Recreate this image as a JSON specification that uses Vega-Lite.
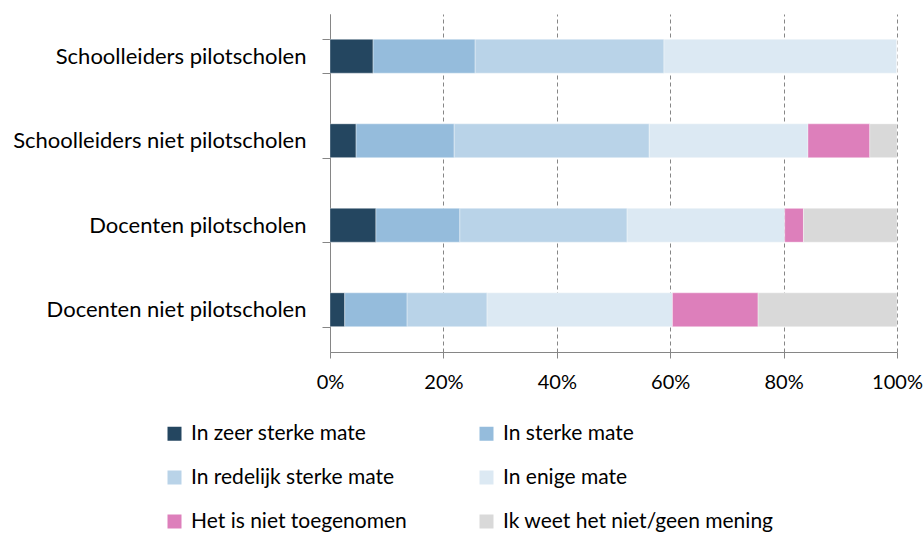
{
  "$schema": "https://vega.github.io/schema/vega-lite/v6.json",
  "autosize": "none",
  "width": 567,
  "height": 338,
  "padding": {"left": 330, "top": 14, "right": 27, "bottom": 183},
  "background": "white",
  "config": {
    "view": {"stroke": null},
    "font": "Lato",
    "text": {"font": "Lato"}
  },
  "data": {
    "values": [
      {"groep": "Schoolleiders pilotscholen", "antwoord": "In zeer sterke mate", "k": 1, "pct": 7.6},
      {"groep": "Schoolleiders pilotscholen", "antwoord": "In sterke mate", "k": 2, "pct": 18.0},
      {"groep": "Schoolleiders pilotscholen", "antwoord": "In redelijk sterke mate", "k": 3, "pct": 33.3},
      {"groep": "Schoolleiders pilotscholen", "antwoord": "In enige mate", "k": 4, "pct": 41.1},
      {"groep": "Schoolleiders pilotscholen", "antwoord": "Het is niet toegenomen", "k": 5, "pct": 0},
      {"groep": "Schoolleiders pilotscholen", "antwoord": "Ik weet het niet/geen mening", "k": 6, "pct": 0},
      {"groep": "Schoolleiders niet pilotscholen", "antwoord": "In zeer sterke mate", "k": 1, "pct": 4.6},
      {"groep": "Schoolleiders niet pilotscholen", "antwoord": "In sterke mate", "k": 2, "pct": 17.3},
      {"groep": "Schoolleiders niet pilotscholen", "antwoord": "In redelijk sterke mate", "k": 3, "pct": 34.4},
      {"groep": "Schoolleiders niet pilotscholen", "antwoord": "In enige mate", "k": 4, "pct": 28.0},
      {"groep": "Schoolleiders niet pilotscholen", "antwoord": "Het is niet toegenomen", "k": 5, "pct": 10.9},
      {"groep": "Schoolleiders niet pilotscholen", "antwoord": "Ik weet het niet/geen mening", "k": 6, "pct": 4.8},
      {"groep": "Docenten pilotscholen", "antwoord": "In zeer sterke mate", "k": 1, "pct": 8.1},
      {"groep": "Docenten pilotscholen", "antwoord": "In sterke mate", "k": 2, "pct": 14.8},
      {"groep": "Docenten pilotscholen", "antwoord": "In redelijk sterke mate", "k": 3, "pct": 29.5},
      {"groep": "Docenten pilotscholen", "antwoord": "In enige mate", "k": 4, "pct": 27.8},
      {"groep": "Docenten pilotscholen", "antwoord": "Het is niet toegenomen", "k": 5, "pct": 3.3},
      {"groep": "Docenten pilotscholen", "antwoord": "Ik weet het niet/geen mening", "k": 6, "pct": 16.5},
      {"groep": "Docenten niet pilotscholen", "antwoord": "In zeer sterke mate", "k": 1, "pct": 2.6},
      {"groep": "Docenten niet pilotscholen", "antwoord": "In sterke mate", "k": 2, "pct": 11.0},
      {"groep": "Docenten niet pilotscholen", "antwoord": "In redelijk sterke mate", "k": 3, "pct": 14.1},
      {"groep": "Docenten niet pilotscholen", "antwoord": "In enige mate", "k": 4, "pct": 32.7},
      {"groep": "Docenten niet pilotscholen", "antwoord": "Het is niet toegenomen", "k": 5, "pct": 15.1},
      {"groep": "Docenten niet pilotscholen", "antwoord": "Ik weet het niet/geen mening", "k": 6, "pct": 24.5}
    ]
  },
  "mark": {"type": "bar", "stroke": "white", "strokeWidth": 0.5, "strokeOpacity": 0.7},
  "encoding": {
    "y": {
      "field": "groep",
      "type": "nominal",
      "sort": ["Schoolleiders pilotscholen", "Schoolleiders niet pilotscholen", "Docenten pilotscholen", "Docenten niet pilotscholen"],
      "scale": {"paddingInner": 0.6, "paddingOuter": 0.3},
      "axis": {
        "title": null,
        "tickBand": "extent",
        "domainColor": "#868686",
        "tickColor": "#868686",
        "tickSize": 8,
        "labelPadding": 16,
        "labelFontSize": 22,
        "labelColor": "#000000",
        "labelFont": "Lato",
        "labelLimit": 400
      }
    },
    "x": {
      "field": "pct",
      "type": "quantitative",
      "stack": "zero",
      "scale": {"domain": [0, 100], "nice": false},
      "axis": {
        "title": null,
        "values": [0, 20, 40, 60, 80, 100],
        "labelExpr": "datum.value + '%'",
        "grid": true,
        "gridDash": [4, 3],
        "gridColor": "#868686",
        "gridWidth": 1,
        "domainColor": "#868686",
        "tickColor": "#868686",
        "tickSize": 6,
        "labelPadding": 14,
        "labelFontSize": 20,
        "labelColor": "#000000",
        "labelFont": "Lato",
        "labelFlush": false
      }
    },
    "order": {"field": "k", "type": "quantitative"},
    "color": {
      "field": "antwoord",
      "type": "nominal",
      "scale": {
        "domain": ["In zeer sterke mate", "In sterke mate", "In redelijk sterke mate", "In enige mate", "Het is niet toegenomen", "Ik weet het niet/geen mening"],
        "range": ["#244660", "#95bcdc", "#b9d3e8", "#dce9f3", "#dd7fbb", "#d9d9d9"]
      },
      "legend": {
        "title": null,
        "orient": "none",
        "legendX": -166,
        "legendY": 409,
        "direction": "horizontal",
        "columns": 2,
        "symbolType": "square",
        "symbolSize": 196,
        "symbolStrokeWidth": 0,
        "labelFontSize": 21,
        "labelFont": "Lato",
        "labelColor": "#000000",
        "labelOffset": 6,
        "labelLimit": 400,
        "rowPadding": 22,
        "columnPadding": 69
      }
    }
  }
}
